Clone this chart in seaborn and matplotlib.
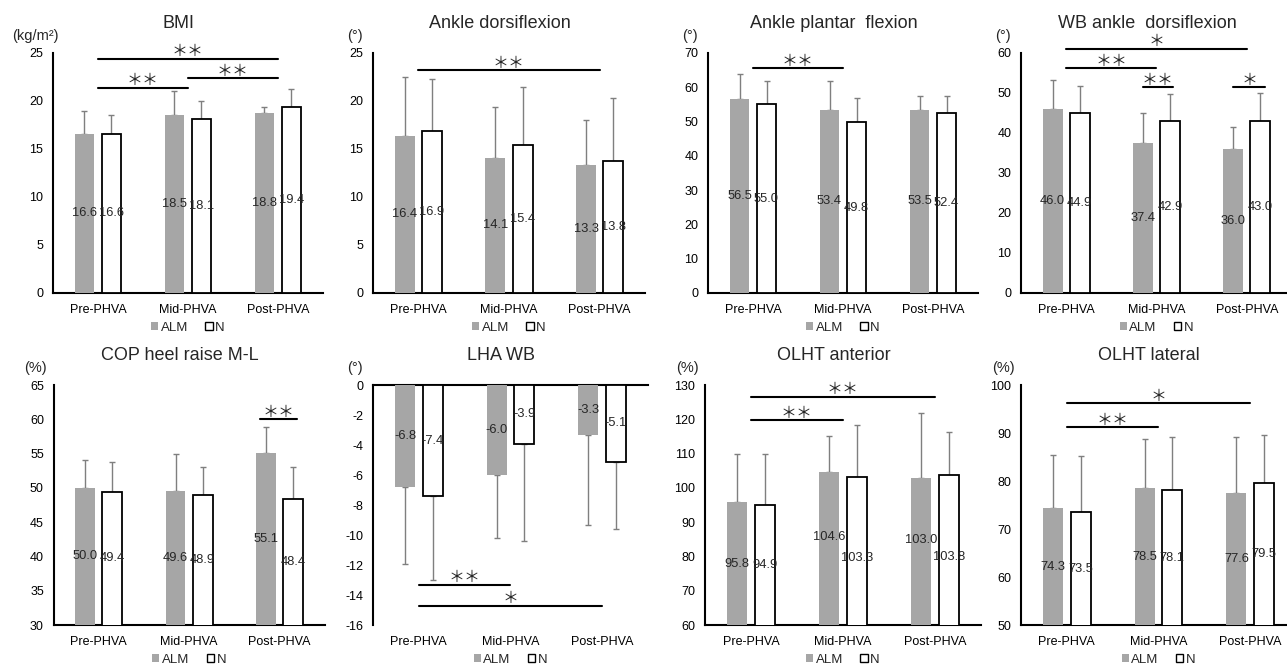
import pandas as pd
import matplotlib
matplotlib.use("Agg")
import matplotlib.pyplot as plt
import seaborn as sns
from matplotlib.patches import Patch

phases = ["Pre-PHVA", "Mid-PHVA", "Post-PHVA"]
groups = ["ALM", "N"]

# mean and SD per phase
bmi_alm = [16.6, 18.5, 18.8]
bmi_alm_sd = [2.4, 2.5, 0.6]
bmi_n = [16.6, 18.1, 19.4]
bmi_n_sd = [1.9, 1.9, 1.9]

dorsi_alm = [16.4, 14.1, 13.3]
dorsi_alm_sd = [6.1, 5.3, 4.7]
dorsi_n = [16.9, 15.4, 13.8]
dorsi_n_sd = [5.4, 6.1, 6.5]

plantar_alm = [56.5, 53.4, 53.5]
plantar_alm_sd = [7.4, 8.3, 3.9]
plantar_n = [55.0, 49.8, 52.4]
plantar_n_sd = [6.7, 7.2, 5.0]

wb_alm = [46.0, 37.4, 36.0]
wb_alm_sd = [7.2, 7.5, 5.6]
wb_n = [44.9, 42.9, 43.0]
wb_n_sd = [6.9, 6.8, 7.1]

cop_alm = [50.0, 49.6, 55.1]
cop_alm_sd = [4.1, 5.4, 3.8]
cop_n = [49.4, 48.9, 48.4]
cop_n_sd = [4.35, 4.2, 4.6]

lha_alm = [-6.8, -6.0, -3.3]
lha_alm_sd = [5.1, 4.2, 6.0]
lha_n = [-7.4, -3.9, -5.1]
lha_n_sd = [5.6, 6.5, 4.5]

ant_alm = [95.8, 104.6, 103.0]
ant_alm_sd = [14.1, 10.6, 18.8]
ant_n = [94.9, 103.3, 103.8]
ant_n_sd = [15.0, 15.1, 12.6]

lat_alm = [74.3, 78.5, 77.6]
lat_alm_sd = [11.2, 10.3, 11.5]
lat_n = [73.5, 78.1, 79.5]
lat_n_sd = [11.8, 11.0, 10.1]

# significance bars: (from, to, height, mark)
bmi_sig = [(0, 2, 24.4, "＊＊"), (0, 1, 21.4, "＊＊"), (1, 2, 22.4, "＊＊")]
dorsi_sig = [(0, 2, 23.2, "＊＊")]
plantar_sig = [(0, 1, 65.5, "＊＊")]
wb_sig = [(0, 2, 61.1, "＊"), (0, 1, 56.2, "＊＊"), (0.85, 1.18, 51.4, "＊＊"), (1.85, 2.2, 51.4, "＊")]
cop_sig = [(1.79, 2.19, 60.0, "＊＊")]
lha_sig = [(0, 1, -13.3, "＊＊"), (0, 2, -14.7, "＊")]
ant_sig = [(0, 2, 126.6, "＊＊"), (0, 1, 119.7, "＊＊")]
lat_sig = [(0, 2, 96.2, "＊"), (0, 1, 91.2, "＊＊")]

alm_color = "#a6a6a6"
err_color = "#7f7f7f"

sns.set_style("white")
plt.rcParams["font.family"] = ["Liberation Sans", "DejaVu Sans"]
plt.rcParams["axes.unicode_minus"] = False

W, H = 1287, 664
fig = plt.figure(figsize=(W / 100, H / 100), dpi=100)

panels = [
    ("BMI", "(kg/m²)", (0, 25, 5), bmi_alm, bmi_alm_sd, bmi_n, bmi_n_sd, bmi_sig, (53, 53, 270)),
    ("Ankle dorsiflexion", "(°)", (0, 25, 5), dorsi_alm, dorsi_alm_sd, dorsi_n, dorsi_n_sd, dorsi_sig, (373, 53, 272)),
    ("Ankle plantar  flexion", "(°)", (0, 70, 10), plantar_alm, plantar_alm_sd, plantar_n, plantar_n_sd, plantar_sig, (708, 53, 270)),
    ("WB ankle  dorsiflexion", "(°)", (0, 60, 10), wb_alm, wb_alm_sd, wb_n, wb_n_sd, wb_sig, (1021, 53, 271)),
    ("COP heel raise M-L", "(%)", (30, 65, 5), cop_alm, cop_alm_sd, cop_n, cop_n_sd, cop_sig, (53.6, 385, 271)),
    ("LHA WB", "(°)", (-16, 0, 2), lha_alm, lha_alm_sd, lha_n, lha_n_sd, lha_sig, (373, 385, 275)),
    ("OLHT anterior", "(%)", (60, 130, 10), ant_alm, ant_alm_sd, ant_n, ant_n_sd, ant_sig, (705, 385, 276)),
    ("OLHT lateral", "(%)", (50, 100, 10), lat_alm, lat_alm_sd, lat_n, lat_n_sd, lat_sig, (1021, 385, 275)),
]

for title, unit, (lo, hi, step), alm, alm_sd, n, n_sd, sig, (left, top, w) in panels:
    ax = fig.add_axes([left / W, 1 - (top + 240) / H, w / W, 240 / H])
    df = pd.DataFrame({
        "phase": phases * 2,
        "group": ["ALM"] * 3 + ["N"] * 3,
        "value": alm + n,
    })
    sns.barplot(data=df, x="phase", y="value", hue="group", order=phases, hue_order=groups,
                palette={"ALM": alm_color, "N": "white"}, errorbar=None, width=0.6, gap=0.27,
                legend=False, ax=ax, zorder=3)

    base = min(max(0, lo), hi)
    for cont, g, vals, sds in zip(ax.containers, groups, [alm, n], [alm_sd, n_sd]):
        for bar, v, sd in zip(cont, vals, sds):
            if g == "N":
                bar.set_edgecolor("black")
                bar.set_linewidth(1.3)
            else:
                bar.set_edgecolor("none")
            x = bar.get_x() + bar.get_width() / 2
            err = [[0], [sd]] if v >= 0 else [[sd], [0]]
            ax.errorbar(x, v, yerr=err, fmt="none", ecolor=err_color, elinewidth=1,
                        capsize=2.5, capthick=1, zorder=2)
            label = f"{v:.1f}"
            # wide labels get staggered so neighbours don't collide
            dy = 0
            if len(label) > 4:
                dy = 8 if g == "ALM" else -5
            ax.annotate(label, xy=(x, (base + v) / 2), xytext=(0, dy), textcoords="offset points",
                        ha="center", va="center", fontsize=9.3, zorder=5)

    for x0, x1, y, mark in sig:
        ax.plot([x0, x1], [y, y], color="black", lw=1.5, clip_on=False, zorder=4)
        ax.annotate(mark, xy=((x0 + x1) / 2, y), xytext=(0, 5), textcoords="offset points",
                    ha="center", va="center", fontsize=11.5, family=["Noto Sans CJK JP"],
                    annotation_clip=False)

    ax.set_ylim(lo, hi)
    ax.set_yticks(range(lo, hi + 1, step))
    ax.set_xlim(-0.5, 2.5)
    ax.set_xlabel("")
    ax.set_ylabel("")
    ax.tick_params(axis="both", length=0, labelsize=9, colors="black")
    ax.tick_params(axis="y", pad=7)
    ax.tick_params(axis="x", pad=8)

    sns.despine(ax=ax)
    for s in ["left", "bottom"]:
        ax.spines[s].set_color("black")
        ax.spines[s].set_linewidth(1.5)
    if hi <= 0:
        ax.spines["bottom"].set_visible(False)
        ax.spines["top"].set_visible(True)
        ax.spines["top"].set_color("black")
        ax.spines["top"].set_linewidth(1.5)

    ax.text(0.465, 1 + 29.5 / 240, title, transform=ax.transAxes, ha="center", va="center", fontsize=13)
    ax.annotate(unit, xy=(0, 1), xycoords="axes fraction", xytext=(-13, 12.5),
                textcoords="offset points", ha="center", va="center", fontsize=10.5)

    handles = [Patch(facecolor=alm_color, edgecolor="none", label="ALM"),
               Patch(facecolor="white", edgecolor="black", linewidth=1, label="N")]
    ax.legend(handles=handles, loc="center", bbox_to_anchor=(0.5, -0.146), ncol=2, frameon=False,
              fontsize=9.5, handlelength=0.55, handleheight=0.55, handletextpad=0.2, columnspacing=1.3)

fig.savefig("out.png", dpi=100)
